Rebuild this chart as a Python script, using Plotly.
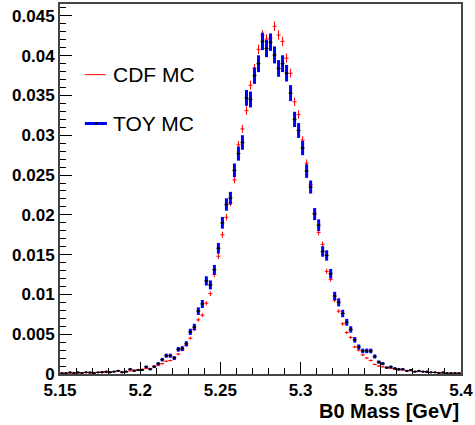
import numpy as np
import plotly.graph_objects as go

# Histogram binning: 100 bins from 5.15 to 5.40 GeV
BIN_LOW = 5.15
BIN_WIDTH = 0.0025
N_BINS = 100

# CDF MC (red), normalised bin contents
cdf_mc = [
    0.0001, 0.0001, 0.0001, 0.0002, 0.0001, 0.0002, 0.0002, 0.0001, 0.0002, 0.0002,
    0.0003, 0.0002, 0.0003, 0.0003, 0.0004, 0.0003, 0.0003, 0.0004, 0.0005, 0.0005,
    0.0006, 0.0007, 0.0007, 0.0010, 0.0011, 0.0013, 0.0016, 0.0017, 0.0021, 0.0025,
    0.0030, 0.0036, 0.0045, 0.0056, 0.0068, 0.0074, 0.0089, 0.0101, 0.0125, 0.0148,
    0.0175, 0.0197, 0.0215, 0.0244, 0.0288, 0.0308, 0.0331, 0.0363, 0.0384, 0.0408,
    0.0426, 0.0421, 0.0422, 0.0437, 0.0426, 0.0418, 0.0397, 0.0378, 0.0342, 0.0326,
    0.0294, 0.0265, 0.0238, 0.0202, 0.0178, 0.0163, 0.0129, 0.0119, 0.0093, 0.0079,
    0.0063, 0.0052, 0.0046, 0.0034, 0.0030, 0.0024, 0.0020, 0.0017, 0.0012, 0.0010,
    0.0009, 0.0008, 0.0007, 0.0006, 0.0005, 0.0005, 0.0004, 0.0004, 0.0003, 0.0003,
    0.0003, 0.0002, 0.0002, 0.0002, 0.0002, 0.0001, 0.0001, 0.0001, 0.0001, 0.0001,
]

# TOY MC (blue), normalised bin contents
toy_mc = [
    0.0001, 0.0001, 0.0002, 0.0001, 0.0002, 0.0001, 0.0002, 0.0002, 0.0001, 0.0002,
    0.0002, 0.0003, 0.0002, 0.0003, 0.0004, 0.0002, 0.0003, 0.0006, 0.0004, 0.0005,
    0.0005, 0.0009, 0.0006, 0.0009, 0.0013, 0.0018, 0.0023, 0.0023, 0.0020, 0.0031,
    0.0032, 0.0038, 0.0053, 0.0059, 0.0079, 0.0088, 0.0117, 0.0112, 0.0131, 0.0158,
    0.0190, 0.0213, 0.0221, 0.0256, 0.0277, 0.0291, 0.0347, 0.0345, 0.0375, 0.0390,
    0.0418, 0.0409, 0.0417, 0.0401, 0.0384, 0.0390, 0.0378, 0.0353, 0.0320, 0.0306,
    0.0284, 0.0255, 0.0235, 0.0201, 0.0187, 0.0154, 0.0149, 0.0126, 0.0098, 0.0090,
    0.0076, 0.0065, 0.0056, 0.0043, 0.0034, 0.0029, 0.0029, 0.0029, 0.0022, 0.0015,
    0.0013, 0.0008, 0.0009, 0.0007, 0.0006, 0.0006, 0.0004, 0.0005, 0.0003, 0.0004,
    0.0003, 0.0003, 0.0002, 0.0002, 0.0001, 0.0002, 0.0001, 0.0001, 0.0001, 0.0001,
]

# Approximate number of entries (sets Poisson error size of normalised histograms)
N_CDF = 120000
N_TOY = 35000

x_tick_vals = [5.15, 5.2, 5.25, 5.3, 5.35, 5.4]
x_tick_text = ["5.15", "5.2", "5.25", "5.3", "5.35", "5.4"]
y_tick_vals = [0, 0.005, 0.01, 0.015, 0.02, 0.025, 0.03, 0.035, 0.04, 0.045]
y_tick_text = ["0", "0.005", "0.01", "0.015", "0.02", "0.025", "0.03", "0.035", "0.04", "0.045"]

centers = BIN_LOW + BIN_WIDTH * (np.arange(N_BINS) + 0.5)
cdf = np.array(cdf_mc)
toy = np.array(toy_mc)
cdf_err = np.sqrt(cdf / N_CDF)
toy_err = np.sqrt(toy / N_TOY)
half = np.full(N_BINS, BIN_WIDTH / 2)

FONT = "Liberation Sans, Arial, Helvetica, sans-serif"

fig = go.Figure()
fig.add_trace(go.Scatter(
    x=centers, y=cdf, mode="markers", name="CDF MC",
    marker=dict(color="red", size=1),
    error_y=dict(type="data", array=cdf_err, color="red", thickness=1, width=0),
    error_x=dict(type="data", array=half, color="red", thickness=1, width=0),
    showlegend=False,
))
fig.add_trace(go.Scatter(
    x=centers, y=toy, mode="markers", name="TOY MC",
    marker=dict(color="black", size=2, symbol="square"),
    error_y=dict(type="data", array=toy_err, color="blue", thickness=3, width=0),
    error_x=dict(type="data", array=half, color="black", thickness=1, width=0),
    showlegend=False,
))

# Legend drawn manually (ROOT TLegend style, no border)
fig.add_shape(type="line", xref="paper", yref="paper", x0=0.062, x1=0.114,
              y0=0.809, y1=0.809, line=dict(color="red", width=1))
fig.add_shape(type="line", xref="paper", yref="paper", x0=0.062, x1=0.117,
              y0=0.677, y1=0.677, line=dict(color="blue", width=3))
fig.add_shape(type="rect", xref="paper", yref="paper", x0=0.0865, x1=0.0925,
              y0=0.674, y1=0.680, line=dict(width=0), fillcolor="black")
fig.add_annotation(text="CDF MC", xref="paper", yref="paper", x=0.127, y=0.809,
                   xanchor="left", yanchor="middle", showarrow=False,
                   font=dict(family=FONT, size=21, color="black"))
fig.add_annotation(text="TOY MC", xref="paper", yref="paper", x=0.127, y=0.677,
                   xanchor="left", yanchor="middle", showarrow=False,
                   font=dict(family=FONT, size=21, color="black"))

# Axis title, right-aligned as in ROOT
fig.add_annotation(text="<b>B0 Mass [GeV]</b>", xref="paper", yref="paper", x=1.0, y=0,
                   xanchor="right", yanchor="middle", yshift=-37, showarrow=False,
                   font=dict(family=FONT, size=20, color="black"))

fig.update_xaxes(
    range=[5.15, 5.4], tickvals=x_tick_vals, ticktext=["<b>%s</b>" % t for t in x_tick_text],
    ticks="inside", ticklen=12, tickwidth=1, tickcolor="black",
    minor=dict(dtick=0.01, tick0=5.15, ticks="inside", ticklen=6, tickcolor="black", tickwidth=1),
    showline=True, linecolor="#444", linewidth=2, mirror=True,
    showgrid=False, zeroline=False,
    tickfont=dict(family=FONT, size=17, color="black"),
)
fig.update_yaxes(
    range=[0, 0.0465], tickvals=y_tick_vals, ticktext=["<b>%s</b>" % t for t in y_tick_text],
    ticks="inside", ticklen=12, tickwidth=1, tickcolor="black",
    minor=dict(dtick=0.001, tick0=0, ticks="inside", ticklen=6, tickcolor="black", tickwidth=1),
    showline=True, linecolor="#444", linewidth=2, mirror=True,
    showgrid=False, zeroline=False,
    tickfont=dict(family=FONT, size=17, color="black"),
)

fig.update_layout(
    width=475, height=425,
    margin=dict(l=60, r=13, t=2, b=51),
    paper_bgcolor="white", plot_bgcolor="white",
    showlegend=False,
)

fig.write_html("out.html")
